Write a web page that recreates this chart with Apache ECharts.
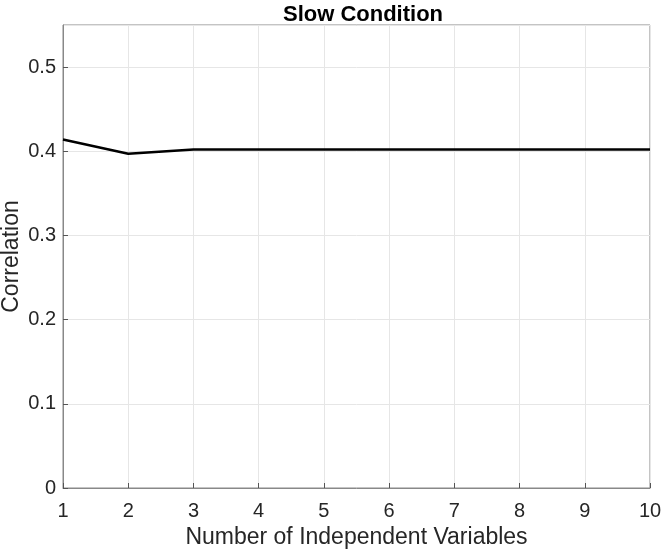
<!DOCTYPE html>
<html>
<head>
<meta charset="utf-8">
<script src="https://cdn.jsdelivr.net/npm/echarts@6/dist/echarts.min.js"></script>
<style>
  html, body { margin: 0; padding: 0; background: #fff; }
  #chart { width: 663px; height: 551px; }
</style>
</head>
<body>
<div id="chart"></div>
<script type="text/javascript">
var numVars = [1, 2, 3, 4, 5, 6, 7, 8, 9, 10];
var correlation = [0.414, 0.397, 0.402, 0.402, 0.402, 0.402, 0.402, 0.402, 0.402, 0.402];

var chart = echarts.init(document.getElementById('chart'));
var font = 'Liberation Sans, Arial, sans-serif';
var option = {
    animation: false,
    title: {
        text: 'Slow Condition',
        left: 358,
        textAlign: 'center',
        top: -1,
        textStyle: { fontFamily: font, fontSize: 22, fontWeight: 'bold', color: '#000' }
    },
    grid: {
        left: 63, right: 13, top: 25, bottom: 63,
        outerBoundsMode: 'none',
        containLabel: false,
        show: true, borderColor: '#888', borderWidth: 1
    },
    xAxis: {
        type: 'value',
        min: 1, max: 10, interval: 1,
        name: 'Number of Independent Variables',
        nameLocation: 'middle',
        nameGap: 38,
        nameMoveOverlap: false,
        nameTextStyle: { fontFamily: font, fontSize: 23, color: '#262626' },
        axisLine: { show: true, lineStyle: { color: '#888' } },
        axisTick: { show: true, inside: true, length: 5, lineStyle: { color: '#555' } },
        axisLabel: { fontFamily: font, fontSize: 20, color: '#262626', margin: 13 },
        splitLine: { show: true, lineStyle: { color: '#e6e6e6' } }
    },
    yAxis: {
        type: 'value',
        min: 0, max: 0.55, interval: 0.1,
        name: 'Correlation',
        nameLocation: 'middle',
        nameGap: 40,
        nameMoveOverlap: false,
        nameTextStyle: { fontFamily: font, fontSize: 23, color: '#262626' },
        axisLine: { show: true, lineStyle: { color: '#888' } },
        axisTick: { show: true, inside: true, length: 5, lineStyle: { color: '#555' } },
        axisLabel: { fontFamily: font, fontSize: 20, color: '#262626', margin: 7, showMaxLabel: false,
            formatter: function (v) { return v > 0.5 ? '' : String(Math.round(v * 10) / 10); } },
        splitLine: { show: true, lineStyle: { color: '#e6e6e6' } }
    },
    series: [{
        type: 'line',
        data: numVars.map(function (x, i) { return [x, correlation[i]]; }),
        showSymbol: false,
        lineStyle: { color: '#000', width: 2.5 }
    }]
};
chart.setOption(option);
</script>
</body>
</html>
